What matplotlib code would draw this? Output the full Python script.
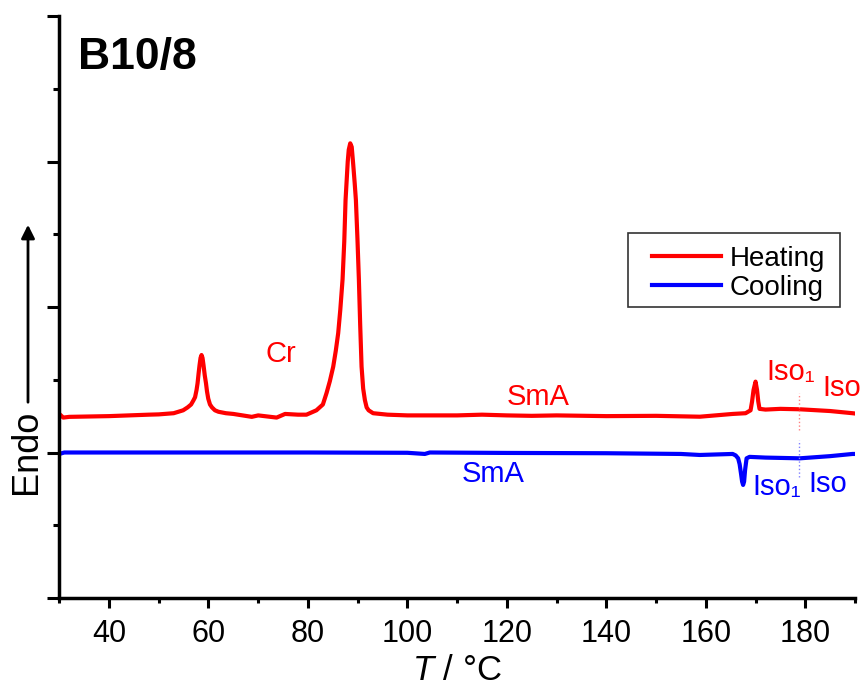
import matplotlib
matplotlib.use("Agg")
import matplotlib.pyplot as plt
from matplotlib.ticker import MultipleLocator
from matplotlib.patches import Rectangle

plt.rcParams['font.family'] = ['Liberation Sans', 'DejaVu Sans']
plt.rcParams['mathtext.fontset'] = 'custom'
plt.rcParams['mathtext.it'] = 'Liberation Sans:italic'
plt.rcParams['mathtext.rm'] = 'Liberation Sans'

# DSC trace, heating run (T in degC, heat flow in arbitrary units)
t_heat = [30.0, 30.8, 32.0, 40.0, 48.0, 50.0, 53.0, 54.9, 55.8, 56.5, 57.0, 57.3,
          57.6, 57.8, 58.0, 58.2, 58.4, 58.6, 58.8, 59.0, 59.25, 59.5, 59.7, 59.95,
          60.3, 60.7, 61.3, 62.0, 63.5, 65.0, 68.7, 70.0, 73.7, 75.4, 78.0, 79.7,
          81.7, 83.0, 83.75, 84.4, 85.08, 85.6, 86.08, 86.5, 86.96, 87.3, 87.56,
          88.0, 88.2, 88.5, 88.8, 89.1, 89.4, 89.64, 89.95, 90.24, 90.5, 90.78,
          91.1, 91.45, 91.8, 92.2, 93.1, 96.0, 100.0, 110.0, 115.0, 120.0, 125.0,
          130.0, 140.0, 150.0, 158.8, 165.4, 168.0, 169.0, 169.3, 169.6, 170.0,
          170.3, 170.55, 170.8, 172.0, 175.0, 178.9, 185.0, 189.5, 190.0]
q_heat = [1.265, 1.24, 1.245, 1.25, 1.26, 1.262, 1.27, 1.29, 1.31, 1.33, 1.36, 1.38,
          1.43, 1.475, 1.54, 1.60, 1.65, 1.67, 1.65, 1.60, 1.53, 1.475, 1.42, 1.37,
          1.33, 1.31, 1.29, 1.28, 1.27, 1.265, 1.245, 1.255, 1.24, 1.265, 1.26, 1.26,
          1.29, 1.33, 1.41, 1.49, 1.59, 1.70, 1.82, 1.98, 2.19, 2.45, 2.735,
          3.0, 3.08, 3.125, 3.10, 2.98, 2.85, 2.735, 2.47, 2.19, 1.88, 1.59,
          1.44, 1.36, 1.31, 1.29, 1.27, 1.26, 1.255, 1.255, 1.26, 1.255, 1.252,
          1.255, 1.25, 1.252, 1.246, 1.265, 1.27, 1.29, 1.35, 1.43, 1.487,
          1.43, 1.35, 1.30, 1.295, 1.30, 1.297, 1.285, 1.27, 1.268]

# cooling run
t_cool = [30.0, 31.0, 40.0, 60.0, 80.0, 100.0, 103.5, 104.5, 120.0, 140.0, 155.0,
          158.8, 165.4, 166.0, 166.5, 166.8, 167.1, 167.3, 167.5, 167.7, 167.9,
          168.2, 168.8, 172.0, 178.9, 185.0, 189.5, 190.0]
q_cool = [0.99, 1.0, 1.0, 1.0, 1.0, 0.998, 0.99, 1.0, 0.997, 0.995, 0.99,
          0.983, 0.99, 0.98, 0.96, 0.92, 0.85, 0.80, 0.777, 0.80, 0.88,
          0.96, 0.97, 0.965, 0.96, 0.975, 0.99, 0.99]

# phase labels: (text, T, y, colour)
phase_labels = [("Cr", 71.5, 1.624, 'red'),
                ("SmA", 119.9, 1.326, 'red'),
                ("Iso\u2081", 172.2, 1.50, 'red'),
                ("Iso", 183.5, 1.39, 'red'),
                ("SmA", 110.9, 0.797, 'blue'),
                ("Iso\u2081", 169.4, 0.708, 'blue'),
                ("Iso", 180.7, 0.73, 'blue')]

# Iso1 -> Iso boundary markers
t_boundary = 178.7
heat_bound = (1.155, 1.41)
cool_bound = (0.83, 1.086)

W, H = 862, 686
fig = plt.figure(figsize=(W / 100, H / 100), dpi=100)
ax = fig.add_axes([59.3 / W, 88 / H, (855 - 59.3) / W, (598 - 16) / H])

ax.plot(t_heat, q_heat, color='#ff0000', lw=3, label='Heating', solid_joinstyle='round')
ax.plot(t_cool, q_cool, color='#0000ff', lw=3, label='Cooling', solid_joinstyle='round')

ax.plot([t_boundary, t_boundary], heat_bound, color='#ff8080', lw=1, ls=':')
ax.plot([t_boundary, t_boundary], cool_bound, color='#8080ff', lw=1, ls=':')

for txt, x, y, c in phase_labels:
    ax.text(x, y, txt, color=c, fontsize=21, ha='left', va='baseline')

ax.set_xlim(30, 190)
ax.set_ylim(0, 4)
ax.xaxis.set_major_locator(MultipleLocator(20))
ax.xaxis.set_minor_locator(MultipleLocator(10))
ax.yaxis.set_major_locator(MultipleLocator(1))
ax.yaxis.set_minor_locator(MultipleLocator(0.5))
ax.set_xticks([40, 60, 80, 100, 120, 140, 160, 180])
ax.set_yticklabels([])

for s in ['top', 'right']:
    ax.spines[s].set_visible(False)
for s in ['left', 'bottom']:
    ax.spines[s].set_linewidth(2.5)

ax.tick_params(axis='x', which='major', direction='out', length=7, width=2.2,
               labelsize=22, pad=8)
ax.tick_params(axis='x', which='minor', direction='out', length=3.5, width=2.2)
ax.tick_params(axis='y', which='major', direction='out', length=8.5, width=2.2)
ax.tick_params(axis='y', which='minor', direction='out', length=4.3, width=2.2)

ax.set_xlabel(r"$T$ / °C", fontsize=25, labelpad=4)

ax.text(78 / W, 1 - 58 / H, "B10/8", transform=fig.transFigure, fontsize=32,
        fontweight='bold', ha='left', va='center')

# Endo arrow on the left
fig.text(27 / W, 1 - 452 / H, "Endo", rotation=90, fontsize=26, ha='center', va='center')
ax.annotate("", xy=(28 / W, 1 - 222 / H), xytext=(28 / W, 1 - 405 / H),
            xycoords='figure fraction', textcoords='figure fraction',
            arrowprops=dict(arrowstyle='-|>', lw=2, color='black', mutation_scale=20))

leg = ax.legend(loc='center left', bbox_to_anchor=(652 / W, 1 - 273.4 / H),
                bbox_transform=fig.transFigure, frameon=False, fontsize=20,
                handlelength=2.5, handletextpad=0.3, labelspacing=0.12,
                borderpad=0, borderaxespad=0)
fig.patches.append(Rectangle((628 / W, 1 - 307 / H), (840 - 628) / W, (307 - 233) / H,
                             transform=fig.transFigure, fill=False, lw=1.2,
                             edgecolor='#333333'))

fig.savefig("out.png", dpi=100)
